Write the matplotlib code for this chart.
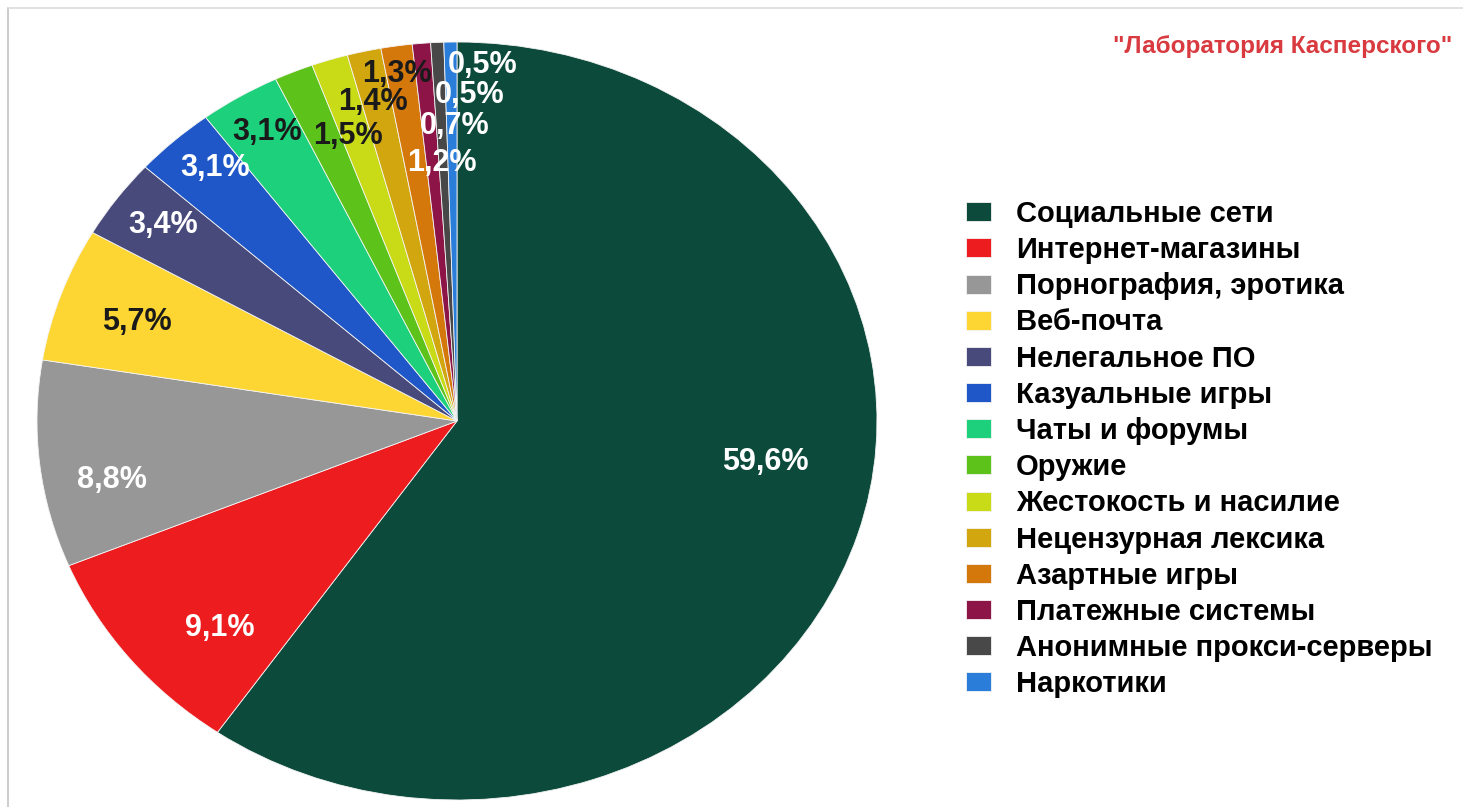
import matplotlib
matplotlib.use("Agg")
import matplotlib.pyplot as plt
from matplotlib.lines import Line2D

plt.rcParams['font.family'] = ['Liberation Sans', 'DejaVu Sans']

categories = ["Социальные сети", "Интернет-магазины", "Порнография, эротика",
              "Веб-почта", "Нелегальное ПО", "Казуальные игры", "Чаты и форумы",
              "Оружие", "Жестокость и насилие", "Нецензурная лексика",
              "Азартные игры", "Платежные системы", "Анонимные прокси-серверы",
              "Наркотики"]
values = [59.6, 9.1, 8.8, 5.7, 3.4, 3.1, 3.1, 1.5, 1.4, 1.3, 1.2, 0.7, 0.5, 0.5]
labels = ["59,6%", "9,1%", "8,8%", "5,7%", "3,4%", "3,1%", "3,1%",
          "1,5%", "1,4%", "1,3%", "1,2%", "0,7%", "0,5%", "0,5%"]
colors = ["#0c4a3b", "#ec1c1f", "#979797", "#fdd633", "#474a7b", "#1f57c8",
          "#1dd07b", "#5dc31b", "#c9da17", "#d2a60e", "#d5780b", "#8c1446",
          "#484848", "#2a7dd8"]
label_colors = ["white", "white", "white", "#1a1a1a", "white", "white", "#1a1a1a",
                "#1a1a1a", "#1a1a1a", "#1a1a1a", "white", "white", "white", "white"]

# label positions in pie data units
label_x = [0.733, -0.564, -0.821, -0.762, -0.700, -0.576, -0.452,
           -0.260, -0.200, -0.143, -0.036, -0.005, 0.031, 0.062]
label_y = [-0.108, -0.546, -0.156, 0.261, 0.517, 0.668, 0.763,
           0.752, 0.842, 0.915, 0.681, 0.778, 0.860, 0.940]

fig = plt.figure(figsize=(14.63, 8.07), dpi=100)
W, H = 1463, 807
ax = fig.add_axes([37 / W, 1 - 800 / H, 840 / W, 758 / H])
wedges, _ = ax.pie(values, colors=colors, startangle=90, counterclock=False,
                   wedgeprops=dict(edgecolor="#f4f4f4", linewidth=0.6))
ax.set_aspect("auto")
ax.set_xlim(-1, 1)
ax.set_ylim(-1, 1)
ax.axis("off")

for lx, ly, t, c in zip(label_x, label_y, labels, label_colors):
    ax.text(lx, ly, t, ha="center", va="center", color=c,
            fontsize=22, fontweight="bold")

fig.legend(wedges, categories, loc="upper left",
           bbox_to_anchor=(966 / W, 1 - 200 / H), frameon=False,
           prop=dict(size=21, weight="bold"), handlelength=0.86,
           handleheight=0.62, handletextpad=0.86, labelspacing=0.28,
           borderpad=0, borderaxespad=0)

fig.text(1452 / W, 1 - 47 / H, "\"Лаборатория Касперского\"", ha="right",
         va="center", color="#d93a40", fontsize=17.5, fontweight="bold")

# thin frame at left and top
fig.add_artist(Line2D([8 / W, 8 / W], [0, 1 - 8 / H], color="#c4c4c4", lw=1.2))
fig.add_artist(Line2D([8 / W, 1], [1 - 8 / H, 1 - 8 / H], color="#dcdcdc", lw=1.2))

fig.savefig("out.png", dpi=100)
